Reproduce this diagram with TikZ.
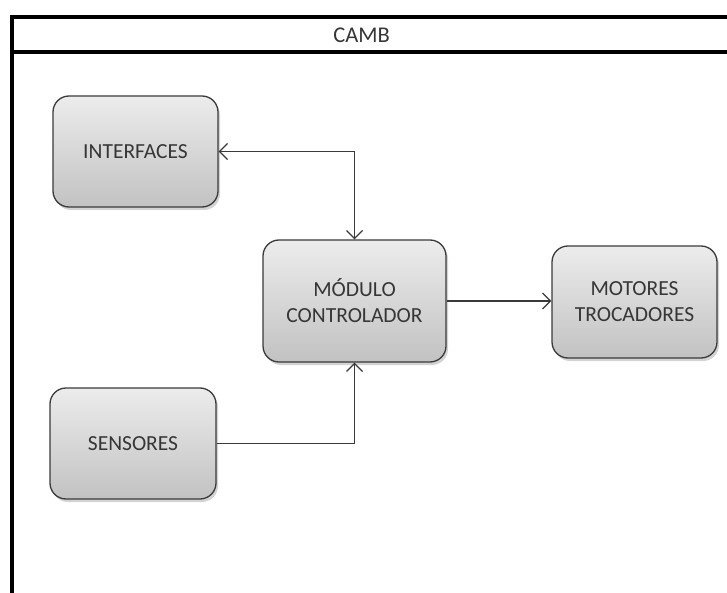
\documentclass[tikz,border=0pt]{standalone}
\usepackage{fontspec}
\setmainfont{Carlito}
\usetikzlibrary{arrows.meta,shadows}
\definecolor{topgray}{HTML}{ECECEC}
\definecolor{botgray}{HTML}{C2C2C2}
\definecolor{edgegray}{HTML}{3A3A3A}
\definecolor{txt}{HTML}{363636}
\tikzset{
  block/.style={draw=edgegray, line width=1.3pt, rounded corners=16pt,
    top color=topgray, bottom color=botgray, align=center,
    font=\fontsize{21.5}{26}\selectfont, text=txt, inner sep=0pt,
    drop shadow={shadow xshift=2pt, shadow yshift=-3pt, opacity=0.35}},
  conn/.style={draw=edgegray, line width=1.2pt,
    arrows={-Straight Barb[length=8pt,width=16pt,line width=1.2pt]}},
  frameline/.style={line width=4pt, black}
}
\begin{document}
\begin{tikzpicture}[x=1pt,y=-1pt]
\useasboundingbox (0,0) rectangle (727,593);
\draw[frameline] (10,17) -- (727,17);
\draw[frameline] (10,52) -- (727,52);
\draw[frameline] (12,15) -- (12,593);
\node[font=\fontsize{22.5}{24}\selectfont, text=txt] (camb) at (361.5,35.5) {CAMB};
\node[block, minimum width=165pt, minimum height=111pt] (interfaces) at (135.5,151.5) {INTERFACES};
\node[block, minimum width=183pt, minimum height=122pt] (modulo) at (354.5,301) {MÓDULO\\CONTROLADOR};
\node[block, minimum width=165pt, minimum height=112pt] (motores) at (634.5,302) {MOTORES\\TROCADORES};
\node[block, minimum width=166pt, minimum height=111pt] (sensores) at (133,443.5) {SENSORES};
\draw[conn, arrows={Straight Barb[length=8pt,width=16pt,line width=1.2pt]-Straight Barb[length=8pt,width=16pt,line width=1.2pt]}] (interfaces.east) -| (modulo.north);
\draw[conn] (modulo.east) -- (modulo.east -| motores.west);
\draw[conn] (sensores.east) -| (modulo.south);
\end{tikzpicture}
\end{document}
